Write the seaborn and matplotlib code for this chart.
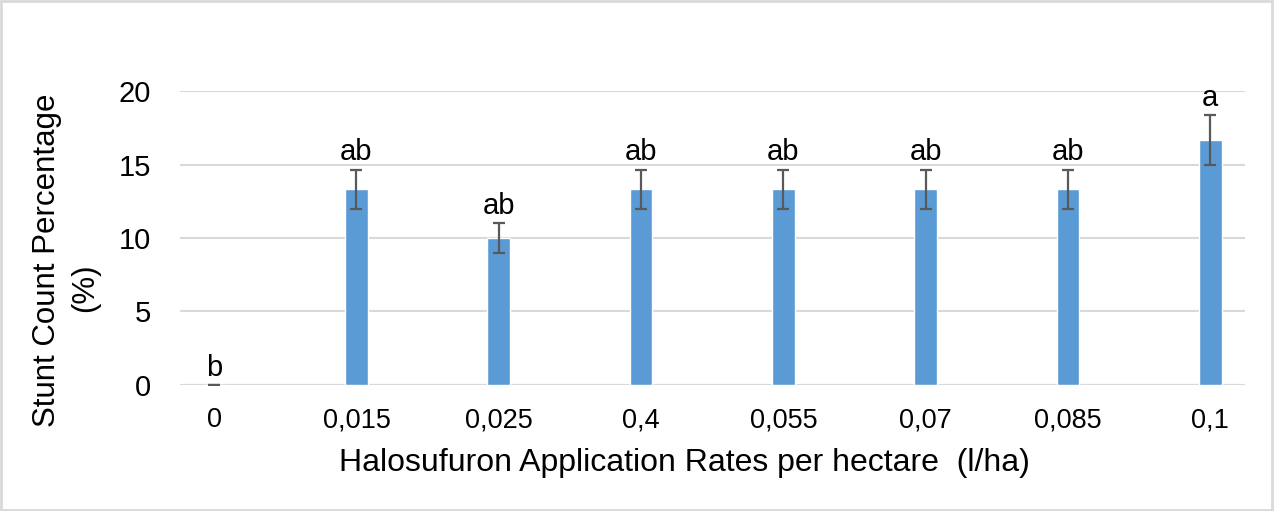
import matplotlib
matplotlib.use("Agg")
import matplotlib.pyplot as plt
import seaborn as sns
import pandas as pd
from matplotlib.patches import Rectangle

# Halosulfuron application rates (l/ha) and stunt counts
rates = ["0", "0,015", "0,025", "0,4", "0,055", "0,07", "0,085", "0,1"]
stunt_pct = [0.0, 13.33, 10.0, 13.33, 13.33, 13.33, 13.33, 16.67]
stunt_err = [0.0, 1.33, 1.0, 1.33, 1.33, 1.33, 1.33, 1.67]
letters = ["b", "ab", "ab", "ab", "ab", "ab", "ab", "a"]
y_ticks = [0, 5, 10, 15, 20]

df = pd.DataFrame({"rate": rates, "pct": stunt_pct, "err": stunt_err})

sns.set_theme(style="white")
plt.rcParams["font.family"] = ["Liberation Sans", "DejaVu Sans"]

fig = plt.figure(figsize=(12.75, 5.11), dpi=100)
ax = fig.add_axes([0.1412, 0.2466, 0.8353, 0.5753])

bar_color = "#5B9BD5"
grid_color = "#D9D9D9"

sns.barplot(data=df, x="rate", y="pct", order=rates, color=bar_color,
            width=0.16, saturation=1, errorbar=None, ax=ax, zorder=3)

ax.errorbar(range(len(rates)), df["pct"], yerr=df["err"], fmt="none",
            ecolor="#595959", elinewidth=1.6, capsize=4.3, capthick=1.6,
            zorder=4)

for i, (v, e, lab) in enumerate(zip(stunt_pct, stunt_err, letters)):
    ax.annotate(lab, xy=(i, v + e), xytext=(0, 6.5), textcoords="offset points",
                ha="center", va="baseline", fontsize=21, color="black",
                annotation_clip=False)

ax.set_ylim(0, 20)
ax.set_xlim(-0.24, 7.245)
ax.set_yticks(y_ticks)
ax.yaxis.grid(True, color=grid_color, linewidth=1.5, zorder=0)
ax.set_axisbelow(True)
for s in ax.spines.values():
    s.set_visible(False)
ax.axhline(0, color=grid_color, linewidth=1.5, zorder=1)

ax.tick_params(axis="y", length=0, pad=21, labelsize=21, labelcolor="black")
ax.tick_params(axis="x", length=0, pad=16, labelsize=19.5, labelcolor="black")
ax.set_xlabel("")
ax.set_ylabel("")

fig.text(684 / 1275, 1 - 463 / 511,
         "Halosufuron Application Rates per hectare  (l/ha)",
         ha="center", va="center", fontsize=23, color="black")
fig.text(47 / 1275, 1 - 260 / 511, "Stunt Count Percentage",
         rotation=90, ha="center", va="center", fontsize=22.5, color="black")
fig.text(85 / 1275, 1 - 288 / 511, "(%)",
         rotation=90, ha="center", va="center", fontsize=22.5, color="black")

# light frame around the chart area
fig.patches.append(Rectangle((0.001, 0.002), 0.997, 0.996, transform=fig.transFigure,
                             fill=False, edgecolor=grid_color, linewidth=2.0))

fig.savefig("out.png", dpi=100, facecolor="white")
